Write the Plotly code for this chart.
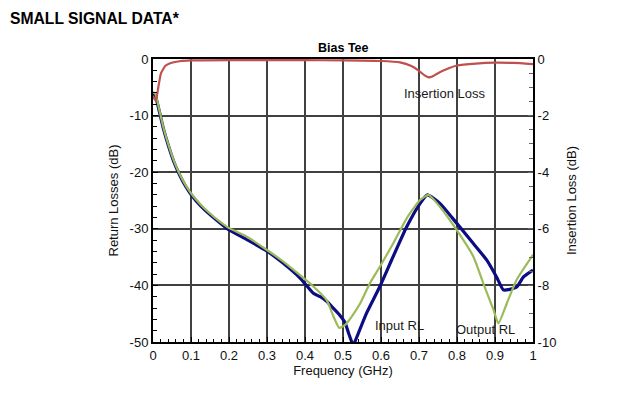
import plotly.graph_objects as go

# Insertion loss (right axis, dB)
il_freq = [0.0, 0.004, 0.008, 0.014, 0.021, 0.032, 0.045, 0.07, 0.1, 0.2, 0.3, 0.4, 0.5, 0.6,
           0.65, 0.68, 0.70, 0.715, 0.725, 0.735, 0.75, 0.78, 0.8, 0.85, 0.9, 0.95, 1.0]
il_db = [-1.3, -1.42, -1.45, -1.0, -0.5, -0.25, -0.15, -0.08, -0.05, -0.04, -0.04, -0.04, -0.05, -0.07,
         -0.12, -0.25, -0.42, -0.58, -0.65, -0.62, -0.5, -0.32, -0.23, -0.16, -0.13, -0.14, -0.18]

# Input return loss (left axis, dB)
in_freq = [0.0, 0.006, 0.014, 0.027, 0.04, 0.055, 0.07, 0.085, 0.102, 0.125, 0.15, 0.175, 0.198,
           0.247, 0.299, 0.343, 0.387, 0.422, 0.44, 0.457, 0.474, 0.492, 0.505, 0.515, 0.527, 0.54,
           0.562, 0.597, 0.632, 0.668, 0.703, 0.722, 0.755, 0.799, 0.843, 0.878, 0.904, 0.922,
           0.939, 0.957, 0.975, 1.0]
in_db = [-6.1, -6.5, -8.5, -12.2, -15.2, -18.2, -20.5, -22.4, -24.1, -25.9, -27.5, -28.9, -30.1,
         -31.9, -33.9, -36.1, -38.7, -41.4, -42.0, -42.8, -44.0, -45.3, -46.5, -48.5, -50.5, -48.5,
         -44.9, -40.2, -34.9, -29.6, -25.5, -24.0, -25.5, -29.0, -32.6, -35.5, -38.5, -40.8,
         -40.7, -40.3, -38.5, -37.3]

# Output return loss (left axis, dB)
out_freq = [0.0, 0.006, 0.014, 0.027, 0.04, 0.055, 0.07, 0.085, 0.102, 0.125, 0.15, 0.175, 0.198,
            0.247, 0.299, 0.343, 0.387, 0.422, 0.457, 0.475, 0.49, 0.505, 0.523, 0.545, 0.571,
            0.597, 0.632, 0.668, 0.703, 0.725, 0.755, 0.799, 0.843, 0.869, 0.896, 0.909, 0.931,
            0.957, 1.0]
out_db = [-5.8, -6.1, -8.2, -12.0, -15.0, -18.0, -20.3, -22.2, -23.9, -25.7, -27.3, -28.7, -29.8,
          -31.4, -33.7, -35.8, -38.2, -40.2, -42.6, -45.5, -47.5, -47.0, -45.5, -43.2, -39.6,
          -36.7, -32.6, -28.1, -24.9, -24.0, -26.1, -30.2, -34.9, -39.6, -44.3, -46.7, -43.2,
          -39.0, -34.6]

x_ticks = [0, 0.1, 0.2, 0.3, 0.4, 0.5, 0.6, 0.7, 0.8, 0.9, 1]
x_tick_text = ["0", "0.1", "0.2", "0.3", "0.4", "0.5", "0.6", "0.7", "0.8", "0.9", "1"]
rl_ticks = [0, -10, -20, -30, -40, -50]
rl_tick_text = ["0", "-10", "-20", "-30", "-40", "-50"]
il_ticks = [0, -2, -4, -6, -8, -10]
il_tick_text = ["0", "-2", "-4", "-6", "-8", "-10"]

FONT = "Liberation Sans, Arial, sans-serif"
grid_col = "#404040"
FS = 13

fig = go.Figure()
fig.add_trace(go.Scatter(x=in_freq, y=in_db, mode="lines", name="Input RL",
                         line=dict(color="#0c0c84", width=3.2, shape="spline", smoothing=0.5)))
fig.add_trace(go.Scatter(x=out_freq, y=out_db, mode="lines", name="Output RL",
                         line=dict(color="#9bbb59", width=2.2, shape="spline", smoothing=0.5)))
fig.add_trace(go.Scatter(x=il_freq, y=il_db, mode="lines", name="Insertion Loss", yaxis="y2",
                         line=dict(color="#c0504d", width=2.2, shape="spline", smoothing=0.4)))

fig.update_layout(
    width=621, height=387,
    margin=dict(l=145, r=96, t=51, b=53, autoexpand=False),
    paper_bgcolor="white", plot_bgcolor="white",
    showlegend=False,
    font=dict(family=FONT, size=FS, color="#111111"),
    xaxis=dict(range=[0, 1], tickvals=x_ticks, ticktext=x_tick_text,
               showgrid=True, gridcolor=grid_col, gridwidth=1.5,
               showline=True, linecolor="black", linewidth=2, mirror=True,
               ticks="inside", ticklen=5, tickcolor="black",
               minor=dict(dtick=0.02, ticks="inside", ticklen=3, tickcolor="black", showgrid=False),
               zeroline=False, fixedrange=True,
               title=dict(text="Frequency (GHz)", standoff=0, font=dict(size=FS))),
    yaxis=dict(range=[-50, 0], tickvals=rl_ticks, ticktext=rl_tick_text,
               showgrid=True, gridcolor=grid_col, gridwidth=1.5,
               showline=True, linecolor="black", linewidth=2,
               ticks="inside", ticklen=5, tickcolor="black",
               minor=dict(dtick=2, ticks="inside", ticklen=4, tickcolor="black", showgrid=False),
               zeroline=False, fixedrange=True,
               title=dict(text="Return Losses (dB)", standoff=8, font=dict(size=FS))),
    yaxis2=dict(range=[-10, 0], tickvals=il_ticks, ticktext=il_tick_text,
                overlaying="y", side="right",
                showgrid=False, showline=True, linecolor="black", linewidth=2,
                ticks="inside", ticklen=5, tickcolor="#666666",
                minor=dict(dtick=0.5, ticks="inside", ticklen=4, tickcolor="#666666"),
                zeroline=False, fixedrange=True,
                title=dict(text="Insertion Loss (dB)", standoff=12, font=dict(size=FS))),
    annotations=[
        dict(text="<b>SMALL SIGNAL DATA*</b>", xref="paper", yref="paper", x=-145/380, y=1 + 41/283,
             xanchor="left", yanchor="middle", showarrow=False, font=dict(size=15.7, color="black")),
        dict(text="<b>Bias Tee</b>", xref="paper", yref="paper", x=0.5, y=1, xanchor="center",
             yanchor="bottom", yshift=2, showarrow=False, font=dict(size=12.5, color="black")),
        dict(text="Insertion Loss", x=0.768, y=-1.21, xref="x", yref="y2", showarrow=False,
             xanchor="center", yanchor="middle", font=dict(size=FS, color="#1a1a1a")),
        dict(text="Input RL", x=0.649, y=-47.0, xref="x", yref="y", showarrow=False,
             xanchor="center", yanchor="middle", font=dict(size=FS, color="#1a1a1a")),
        dict(text="Output RL", x=0.874, y=-47.8, xref="x", yref="y", showarrow=False,
             xanchor="center", yanchor="middle", font=dict(size=FS, color="#1a1a1a")),
    ],
)

fig.write_html("out.html")
